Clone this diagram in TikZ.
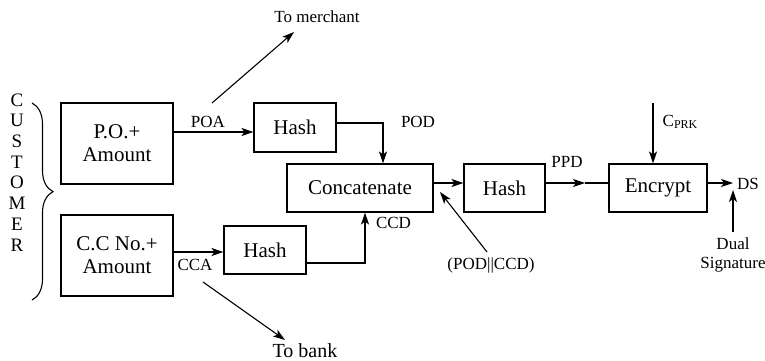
\documentclass[tikz,border=0pt]{standalone}
\usepackage{fontspec}
\setmainfont{Liberation Serif}
\usetikzlibrary{arrows.meta,decorations.pathreplacing,calc}
\begin{document}
\begin{tikzpicture}[x=1pt,y=-1pt,
  blk/.style={draw,line width=1.1pt,inner sep=0pt,align=center,
              font=\fontsize{21}{23}\selectfont},
  lbl/.style={inner sep=0pt,align=center,font=\fontsize{17}{19}\selectfont},
  big/.style={inner sep=0pt,font=\fontsize{20}{22}\selectfont},
  letter/.style={inner sep=0pt,font=\fontsize{19}{20}\selectfont},
  ln/.style={line width=1.1pt},
  arr/.style={line width=1.1pt,-{Stealth[length=12pt,width=8pt,inset=3pt]}}]
\useasboundingbox (0,0) rectangle (765,361);

% blocks
\node[blk,minimum width=112pt,minimum height=81pt] (po) at (117,143.5) {P.O.+\\Amount};
\node[blk,minimum width=112pt,minimum height=81pt] (cc) at (117,255.5) {C.C No.+\\Amount};
\node[blk,minimum width=82pt,minimum height=49pt] (hash1) at (295,127.5) {Hash};
\node[blk,minimum width=82pt,minimum height=48pt] (hash2) at (265,250) {Hash};
\node[blk,minimum width=146pt,minimum height=48pt] (concat) at (360,188) {Concatenate};
\node[blk,minimum width=81pt,minimum height=48pt] (hash3) at (504.5,188) {Hash};
\node[blk,minimum width=98pt,minimum height=48pt] (enc) at (658,188) {Encrypt};

% customer brace and label
\draw[line width=1.1pt,decorate,decoration={brace,amplitude=21pt,aspect=0.45}]
  (32,103) -- (32,300);
\foreach \ch [count=\i from 0] in {C,U,S,T,O,M,E,R}
  \node[letter] (cust\i) at (17,{100+\i*20.7}) {\ch};

% text labels
\node[lbl] (merchant) at (317,17) {To merchant};
\node[big] (bank) at (305,351) {To bank};
\node[lbl] (poa) at (208,122) {POA};
\node[lbl] (cca) at (195,265) {CCA};
\node[lbl] (pod) at (418,122) {POD};
\node[lbl] (ccd) at (393.5,223) {CCD};
\node[lbl] (pc) at (491,265) {(POD||CCD)};
\node[lbl] (ppd) at (567,162) {PPD};
\node[lbl] (cprk) at (680,122) {C{\fontsize{12}{12}\selectfont\raisebox{-2.5pt}{PRK}}};
\node[lbl,anchor=west] (ds) at (737,183.5) {DS};
\node[lbl] (dual) at (733,255) {Dual\\Signature};

% turning points and free ends
\coordinate (poaend) at ([yshift=-4.5pt]hash1.west);
\coordinate (ccaend) at ([yshift=-2pt]hash2.west);
\coordinate (podturn) at (383,123);
\coordinate (ccdturn) at (365,263);
\coordinate (row) at (0,183);
\coordinate (ppdmid) at (585,183);
\coordinate (dsend) at (733,183);
\coordinate (sigtop) at (733,190);
\coordinate (sigfoot) at (733,232);
\coordinate (keytop) at (653,103);
\coordinate (mstart) at (212,103);
\coordinate (mend) at (294,32);
\coordinate (bstart) at (203,282);
\coordinate (bend) at (285,340);
\coordinate (pcfoot) at (487,252);
\coordinate (pctip) at (440,192);

% connectors
\draw[arr] (po.east |- poaend) -- (poaend);
\draw[arr] (cc.east |- ccaend) -- (ccaend);
\draw[arr] (hash1.east |- podturn) -- (podturn) -- (podturn |- concat.north);
\draw[arr] (hash2.east |- ccdturn) -- (ccdturn) -- (ccdturn |- concat.south);
\draw[arr] (concat.east |- row) -- (hash3.west |- row);
\draw[arr] (hash3.east |- row) -- (ppdmid);
\draw[ln] (ppdmid) -- (enc.west |- row);
\draw[arr] (enc.east |- row) -- (dsend);
\draw[arr] (sigfoot) -- (sigtop);
\draw[arr] (keytop) -- (keytop |- enc.north);
\draw[arr] (mstart) -- (mend);
\draw[arr] (bstart) -- (bend);
\draw[arr] (pcfoot) -- (pctip);
\end{tikzpicture}
\end{document}
